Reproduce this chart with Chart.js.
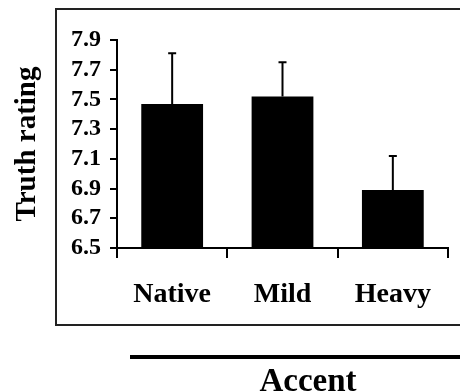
<!DOCTYPE html>
<html>
<head>
<meta charset="utf-8">
<script src="https://cdn.jsdelivr.net/npm/chart.js@4/dist/chart.umd.min.js"></script>
<style>
  html, body { margin: 0; padding: 0; background: #fff; }
  #wrap { width: 460px; height: 392px; }
</style>
</head>
<body>
<div id="wrap"><canvas id="grafico"></canvas></div>
<script>
// datos
const categorias = ['Native', 'Mild', 'Heavy'];
const medias = [7.47, 7.52, 6.89];
const errores = [0.34, 0.23, 0.23];
const ticksY = [6.5, 6.7, 6.9, 7.1, 7.3, 7.5, 7.7, 7.9];

const serif = '"Liberation Serif", "Times New Roman", serif';

// barras de error (solo la parte de arriba se ve)
const barrasError = {
  id: 'barrasError',
  afterDatasetsDraw(chart) {
    const ctx = chart.ctx;
    const x = chart.scales.x, y = chart.scales.y;
    ctx.save();
    ctx.strokeStyle = '#000';
    ctx.lineWidth = 2;
    medias.forEach((m, i) => {
      const px = x.getPixelForValue(i);
      const y0 = y.getPixelForValue(m);
      const y1 = y.getPixelForValue(m + errores[i]);
      ctx.beginPath();
      ctx.moveTo(px, y0);
      ctx.lineTo(px, y1);
      ctx.moveTo(px - 4, y1);
      ctx.lineTo(px + 4, y1);
      ctx.stroke();
    });
    ctx.restore();
  }
};

// marco y rotulo "Accent"
const marco = {
  id: 'marco',
  afterDraw(chart) {
    const ctx = chart.ctx;
    ctx.save();
    ctx.strokeStyle = '#222';
    ctx.lineWidth = 2;
    ctx.strokeRect(56, 9, 420, 316);
    ctx.fillStyle = '#000';
    ctx.fillRect(130, 355, 330, 4);
    ctx.font = 'bold 33px ' + serif;
    ctx.textAlign = 'center';
    ctx.textBaseline = 'alphabetic';
    ctx.fillText('Accent', 308, 391);
    ctx.restore();
  }
};

const config = {
  type: 'bar',
  data: {
    labels: categorias,
    datasets: [{
      data: medias,
      backgroundColor: '#000',
      borderWidth: 0,
      barPercentage: 0.56,
      categoryPercentage: 1
    }]
  },
  options: {
    responsive: true,
    maintainAspectRatio: false,
    animation: false,
    layout: { padding: { top: 40, right: 12, left: 0, bottom: 0 } },
    plugins: { legend: { display: false }, tooltip: { enabled: false } },
    scales: {
      x: {
        grid: { display: true, drawOnChartArea: false, drawTicks: true, tickLength: 10, offset: true, color: '#000', lineWidth: 2 },
        border: { color: '#000', width: 2 },
        ticks: { color: '#000', padding: 20, font: { family: serif, size: 28, weight: 'bold' } },
        afterFit(s) { s.height = 144; }
      },
      y: {
        min: 6.5,
        max: 7.9,
        afterBuildTicks(s) { s.ticks = ticksY.map(v => ({ value: v })); },
        grid: { display: true, drawOnChartArea: false, drawTicks: true, tickLength: 7, color: '#000', lineWidth: 2 },
        border: { color: '#000', width: 2 },
        ticks: {
          color: '#000', padding: 9, autoSkip: false,
          font: { family: serif, size: 24, weight: 'bold' },
          callback: v => v.toFixed(1)
        },
        title: {
          display: true, text: 'Truth rating', color: '#000',
          padding: { top: 13, bottom: 0 },
          font: { family: serif, size: 29, weight: 'bold', lineHeight: 1 }
        },
        afterFit(s) { s.width = 117; }
      }
    }
  },
  plugins: [barrasError, marco]
};

new Chart(document.getElementById('grafico'), config);
</script>
</body>
</html>
